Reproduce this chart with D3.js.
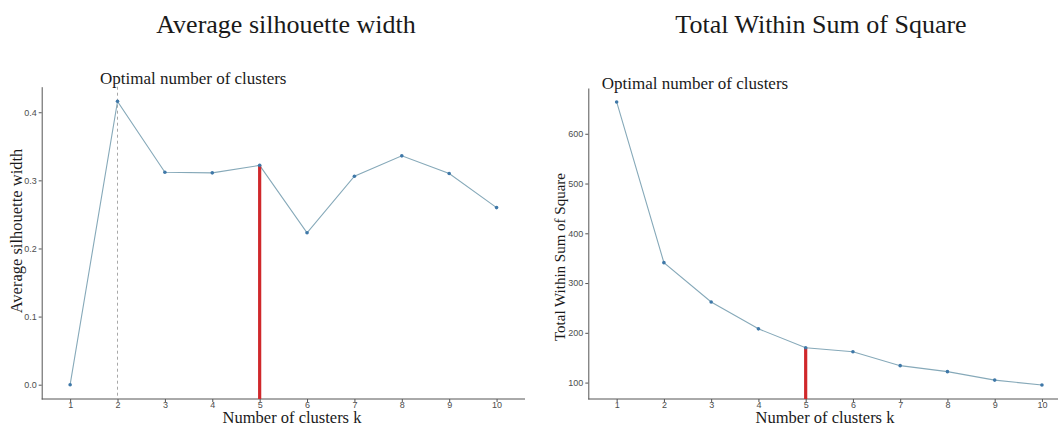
<!DOCTYPE html>
<html>
<head>
<meta charset="utf-8">
<script src="https://cdn.jsdelivr.net/npm/d3@7"></script>
<style>
  html, body { margin: 0; padding: 0; background: #fff; }
  svg { display: block; }
  .tick text { font-family: "Liberation Sans", Arial, sans-serif; font-size: 9px; fill: #4d4d4d; }
  .tick line { stroke: #555; }
  .domain { stroke: #555; }
  .serif { font-family: "Liberation Serif", "Times New Roman", serif; fill: #1a1a1a; }
</style>
</head>
<body>
<script>
// ---- data ----
const clusters = [1, 2, 3, 4, 5, 6, 7, 8, 9, 10];
const silhouette = [0.000, 0.416, 0.312, 0.311, 0.322, 0.223, 0.306, 0.336, 0.310, 0.260];
const wss = [664, 341, 262, 208, 170, 162, 134, 122, 105, 95];
const silTicks = [0.0, 0.1, 0.2, 0.3, 0.4];
const wssTicks = [100, 200, 300, 400, 500, 600];
const optimalSil = 2;
const chosenK = 5;
const mainTitles = ["Average silhouette width", "Total Within Sum of Square"];
const subTitle = "Optimal number of clusters";
const xLabel = "Number of clusters k";
const yLabels = ["Average silhouette width", "Total Within Sum of Square"];

const W = 1058, H = 426;
const svg = d3.select("body").append("svg").attr("width", W).attr("height", H);

const lineColor = "#86a9b9";
const pointColor = "#3f78a8";
const redColor = "#d0282b";

function panel(opts) {
  const g = svg.append("g");
  const x = d3.scaleLinear().domain([0.4, 10.6]).range(opts.xr);
  const y = d3.scaleLinear().domain(opts.yd).range(opts.yr);

  // axes
  const xa = g.append("g").attr("transform", `translate(0,${opts.yr[0]})`)
    .call(d3.axisBottom(x).tickValues(clusters).tickFormat(d3.format("d")).tickSize(3).tickPadding(1).tickSizeOuter(0));
  xa.select(".domain").attr("d", `M${opts.xr[0]},0H${Math.min(opts.xr[1], W)}`);
  xa.selectAll(".tick text").attr("dy", "0.5em");
  g.append("g").attr("transform", `translate(${opts.xr[0]},0)`)
    .call(d3.axisLeft(y).tickValues(opts.ticks).tickFormat(opts.fmt).tickSize(3).tickPadding(2).tickSizeOuter(0));

  // dashed optimal line
  if (opts.dashAt != null) {
    g.append("line")
      .attr("x1", x(opts.dashAt)).attr("x2", x(opts.dashAt))
      .attr("y1", opts.yr[1]).attr("y2", opts.yr[0])
      .attr("stroke", "#a8a8a8").attr("stroke-width", 1).attr("stroke-dasharray", "3,3");
  }

  // line
  const pts = clusters.map((k, i) => [k, opts.values[i]]);
  g.append("path").datum(pts)
    .attr("fill", "none").attr("stroke", lineColor).attr("stroke-width", 1.1)
    .attr("d", d3.line().x(d => x(d[0])).y(d => y(d[1])));

  // red marker line at chosen k
  const ci = clusters.indexOf(chosenK);
  g.append("line")
    .attr("x1", x(chosenK)).attr("x2", x(chosenK))
    .attr("y1", opts.yr[0]).attr("y2", y(opts.values[ci]))
    .attr("stroke", redColor).attr("stroke-width", 3.2);

  // points
  g.selectAll("circle.pt").data(pts).join("circle").attr("class", "pt")
    .attr("cx", d => x(d[0])).attr("cy", d => y(d[1])).attr("r", 1.8)
    .attr("fill", pointColor);

  // texts
  svg.append("text").attr("class", "serif")
    .attr("x", opts.titleX).attr("y", 33).attr("text-anchor", "middle")
    .style("font-size", "26px").text(opts.title);
  svg.append("text").attr("class", "serif")
    .attr("x", opts.subX).attr("y", opts.subY).attr("text-anchor", "start")
    .style("font-size", "17px").text(subTitle);
  svg.append("text").attr("class", "serif")
    .attr("x", opts.xlabX).attr("y", opts.xlabY).attr("text-anchor", "middle")
    .style("font-size", "16.5px").text(xLabel);
  svg.append("text").attr("class", "serif")
    .attr("transform", `translate(${opts.ylabX},${opts.ylabY}) rotate(-90)`)
    .attr("text-anchor", "middle")
    .style("font-size", opts.ylabSize).text(opts.ylab);
}

panel({
  xr: [41.7, 525], yr: [399, 86.7], yd: [-0.021, 0.4375],
  ticks: silTicks, fmt: d3.format(".1f"), values: silhouette, dashAt: optimalSil,
  title: mainTitles[0], titleX: 286, subX: 100, subY: 84,
  xlabX: 292, xlabY: 423, ylab: yLabels[0], ylabX: 22, ylabY: 231, ylabSize: "16.5px"
});

panel({
  xr: [588.3, 1070.3], yr: [399, 88], yd: [67, 692],
  ticks: wssTicks, fmt: d3.format("d"), values: wss, dashAt: null,
  title: mainTitles[1], titleX: 821, subX: 601.7, subY: 89,
  xlabX: 825, xlabY: 423, ylab: yLabels[1], ylabX: 565, ylabY: 257, ylabSize: "15px"
});
</script>
</body>
</html>
